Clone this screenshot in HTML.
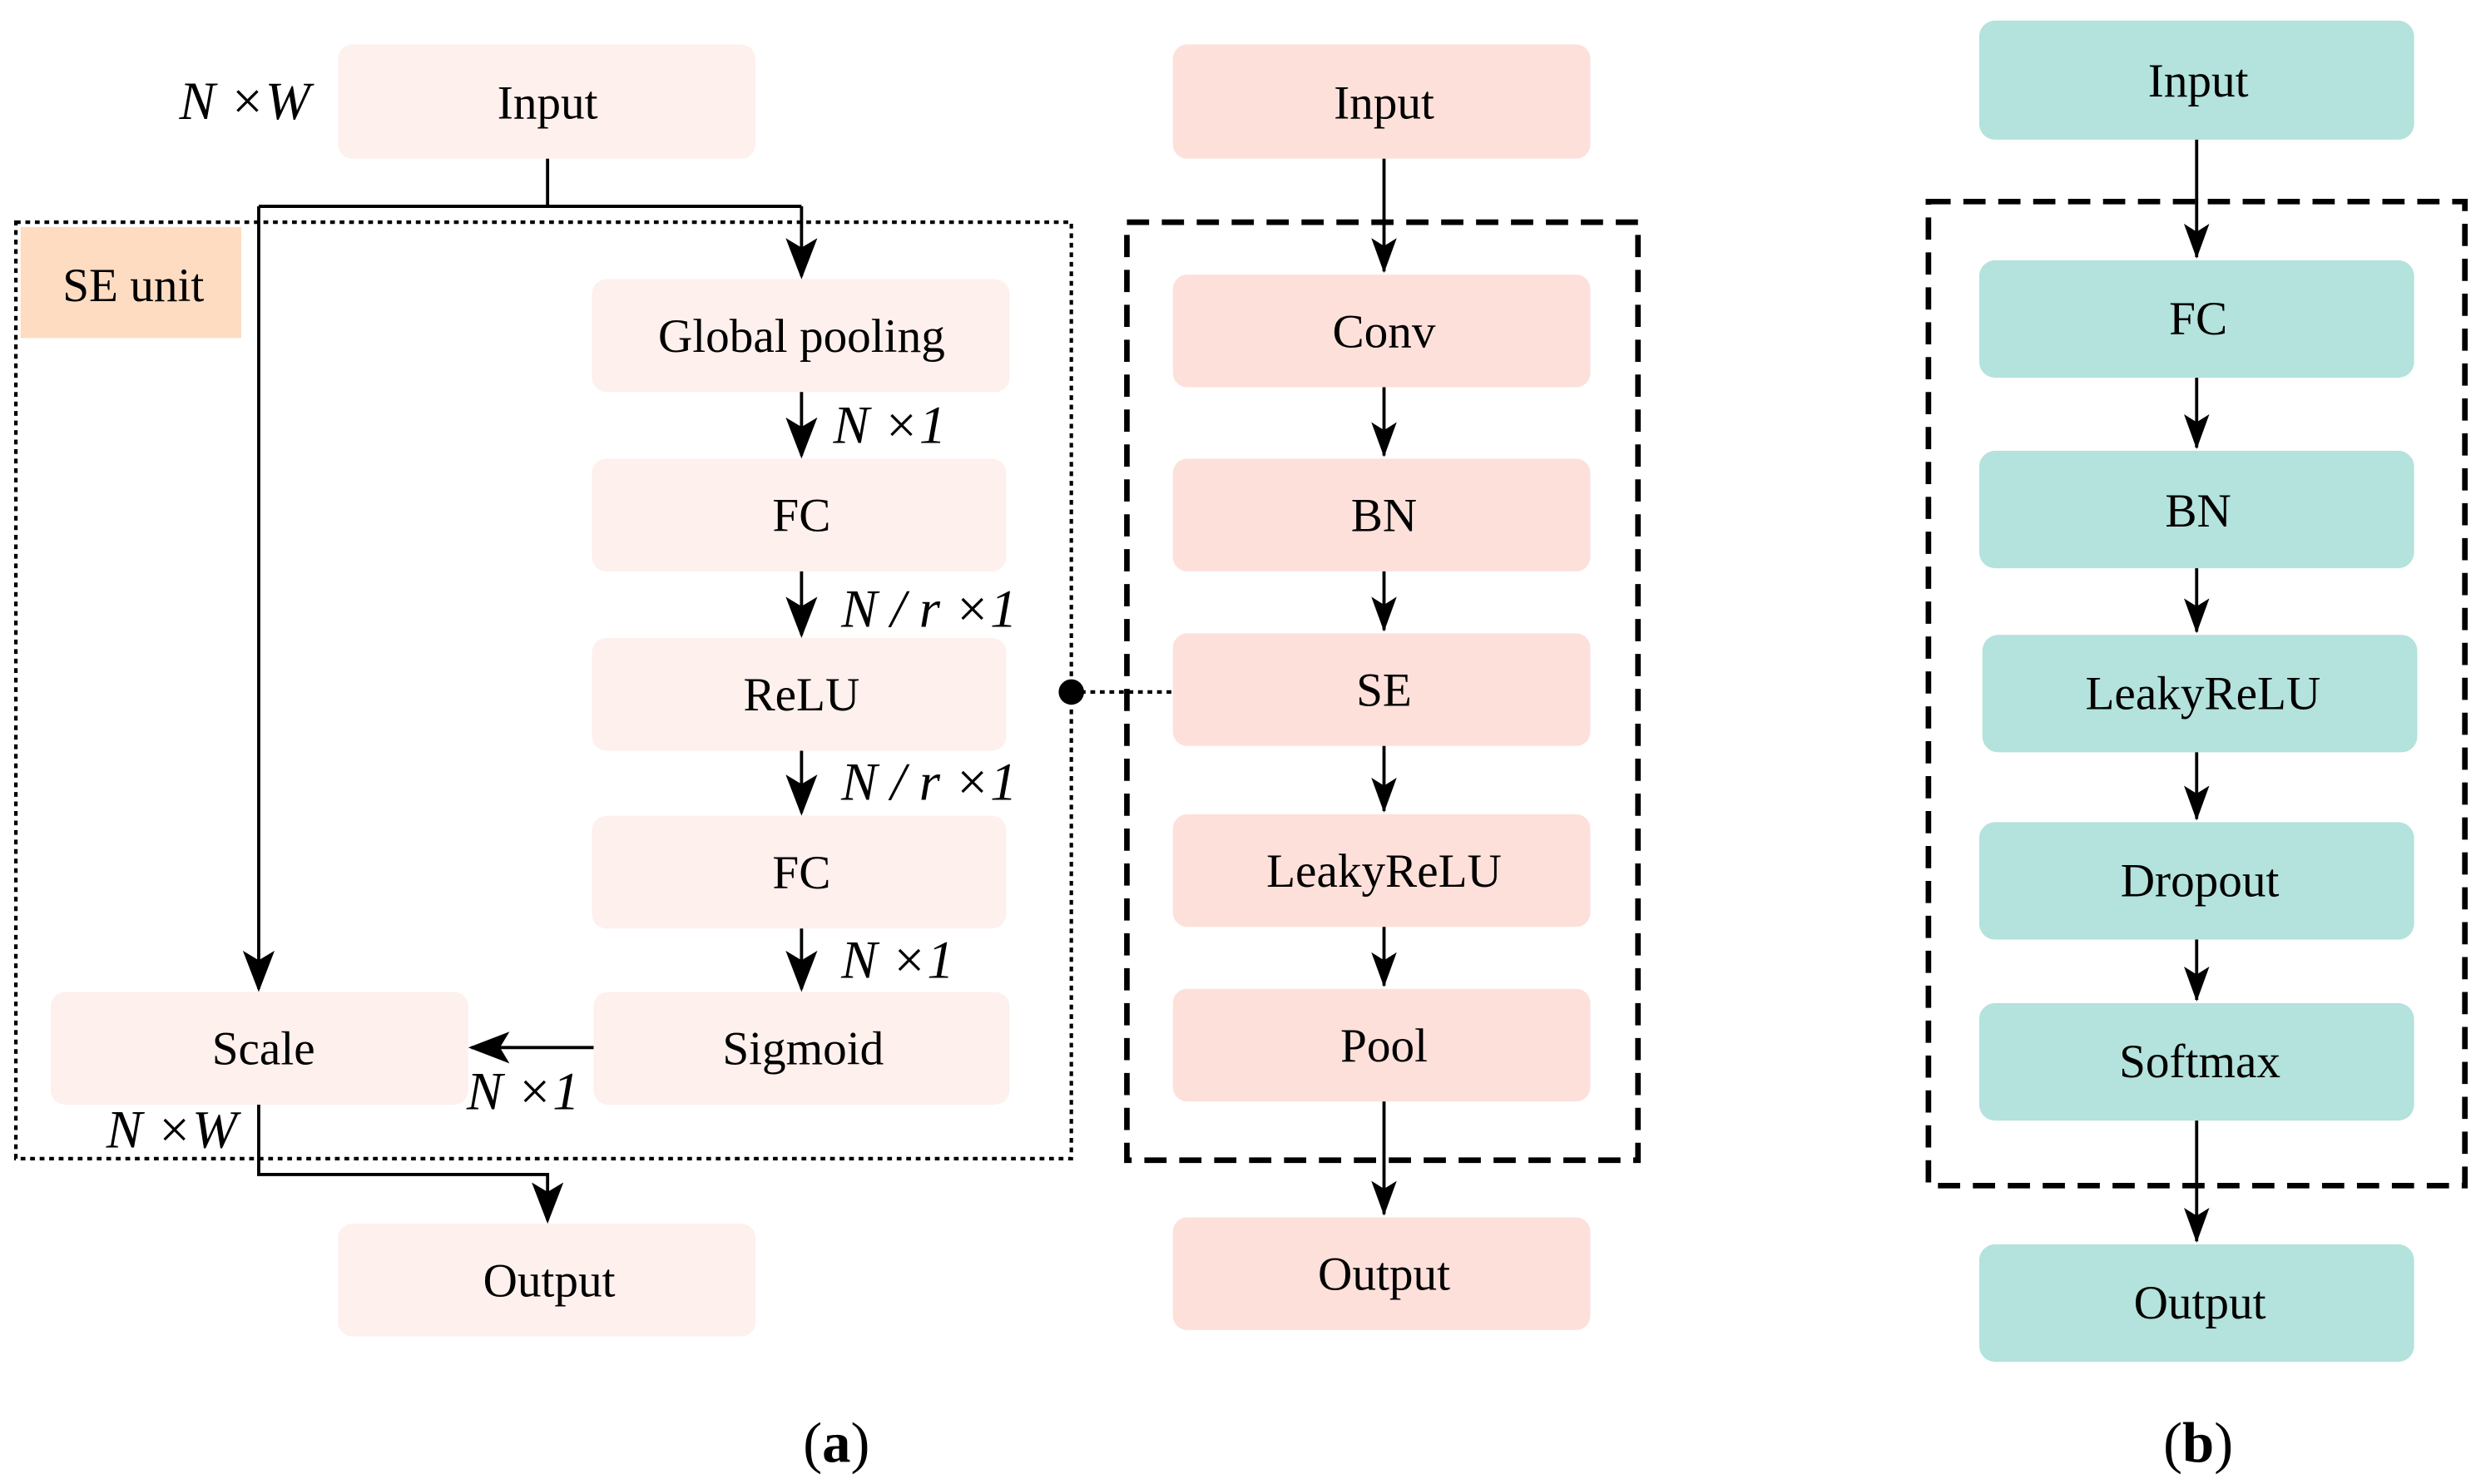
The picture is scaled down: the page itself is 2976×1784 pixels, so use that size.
<!DOCTYPE html>
<html><head><meta charset="utf-8"><style>
html,body{margin:0;padding:0;background:#fff;}
svg{display:block;}
svg text, svg tspan{font-family:"Liberation Serif","Times New Roman","Nimbus Roman","DejaVu Serif","Noto Serif CJK SC",serif;}
</style></head><body>
<svg width="2976" height="1784" viewBox="0 0 1560 935" preserveAspectRatio="none" xmlns="http://www.w3.org/2000/svg">
<defs>
<marker id="ah" markerUnits="userSpaceOnUse" markerWidth="26" markerHeight="20" refX="24" refY="10" orient="auto" viewBox="0 0 26 20">
<path d="M0,0 L26,10 L0,20 L6,10 Z" fill="#000"/>
</marker>
<marker id="ah2" markerUnits="userSpaceOnUse" markerWidth="22" markerHeight="16" refX="21" refY="8" orient="auto" viewBox="0 0 22 16">
<path d="M0,0 L22,8 L0,16 L5,8 Z" fill="#000"/>
</marker>
</defs>

<g font-size="30" text-anchor="middle" dominant-baseline="central">
<rect x="10" y="140" width="665" height="590" fill="none" stroke="#000" stroke-width="2.2" stroke-dasharray="3,3"/>
<rect x="13" y="143" width="139" height="70" fill="#fddcc2"/>
<text x="84" y="180">SE unit</text>

<g fill="#fdf0ed">
<rect x="213" y="28" width="263" height="72" rx="9"/>
<rect x="373" y="176" width="263" height="71" rx="9"/>
<rect x="373" y="289" width="261" height="71" rx="9"/>
<rect x="373" y="402" width="261" height="71" rx="9"/>
<rect x="373" y="514" width="261" height="71" rx="9"/>
<rect x="374" y="625" width="262" height="71" rx="9"/>
<rect x="32" y="625" width="263" height="71" rx="9"/>
<rect x="213" y="771" width="263" height="71" rx="9"/>
</g>
<text x="345" y="65">Input</text>
<text x="505" y="212">Global pooling</text>
<text x="505" y="325">FC</text>
<text x="505" y="438">ReLU</text>
<text x="505" y="550">FC</text>
<text x="506" y="661">Sigmoid</text>
<text x="166" y="661">Scale</text>
<text x="346" y="807">Output</text>

<g stroke="#000" stroke-width="2" fill="none">
<path d="M345,100 V130 M163,130 H505"/>
<path d="M163,130 V623" marker-end="url(#ah)"/>
<path d="M505,130 V174" marker-end="url(#ah)"/>
<path d="M505,247 V287" marker-end="url(#ah)"/>
<path d="M505,360 V400" marker-end="url(#ah)"/>
<path d="M505,473 V512" marker-end="url(#ah)"/>
<path d="M505,585 V623" marker-end="url(#ah)"/>
<path d="M374,660 H297" marker-end="url(#ah)"/>
<path d="M163,696 V740 H345 V769" marker-end="url(#ah)"/>
</g>

<g font-style="italic" font-size="34" text-anchor="start">
<text x="113" y="64">N ×W</text>
<text x="525" y="268">N ×1</text>
<text x="530" y="384">N / r ×1</text>
<text x="530" y="493">N / r ×1</text>
<text x="530" y="605">N ×1</text>
<text x="294" y="688">N ×1</text>
<text x="67" y="712">N ×W</text>
</g>

<circle cx="675" cy="436" r="8" fill="#000"/>
<path d="M675,436 H740" stroke="#000" stroke-width="2.2" stroke-dasharray="3,3"/>

<rect x="710" y="140" width="322" height="591" fill="none" stroke="#000" stroke-width="3.5" stroke-dasharray="14,8"/>
<g fill="#fde0da">
<rect x="739" y="28" width="263" height="72" rx="9"/>
<rect x="739" y="173" width="263" height="71" rx="9"/>
<rect x="739" y="289" width="263" height="71" rx="9"/>
<rect x="739" y="399" width="263" height="71" rx="9"/>
<rect x="739" y="513" width="263" height="71" rx="9"/>
<rect x="739" y="623" width="263" height="71" rx="9"/>
<rect x="739" y="767" width="263" height="71" rx="9"/>
</g>
<text x="872" y="65">Input</text>
<text x="872" y="209">Conv</text>
<text x="872" y="325">BN</text>
<text x="872" y="435">SE</text>
<text x="872" y="549">LeakyReLU</text>
<text x="872" y="659">Pool</text>
<text x="872" y="803">Output</text>
<g stroke="#000" stroke-width="2" fill="none">
<path d="M872,100 V171" marker-end="url(#ah2)"/>
<path d="M872,244 V287" marker-end="url(#ah2)"/>
<path d="M872,360 V397" marker-end="url(#ah2)"/>
<path d="M872,470 V511" marker-end="url(#ah2)"/>
<path d="M872,584 V621" marker-end="url(#ah2)"/>
<path d="M872,694 V765" marker-end="url(#ah2)"/>
</g>

<rect x="1215" y="127" width="338" height="620" fill="none" stroke="#000" stroke-width="3.5" stroke-dasharray="14,8"/>
<g fill="#b4e2dc">
<rect x="1247" y="13" width="274" height="75" rx="10"/>
<rect x="1247" y="164" width="274" height="74" rx="10"/>
<rect x="1247" y="284" width="274" height="74" rx="10"/>
<rect x="1249" y="400" width="274" height="74" rx="10"/>
<rect x="1247" y="518" width="274" height="74" rx="10"/>
<rect x="1247" y="632" width="274" height="74" rx="10"/>
<rect x="1247" y="784" width="274" height="74" rx="10"/>
</g>
<text x="1385" y="51">Input</text>
<text x="1385" y="201">FC</text>
<text x="1385" y="322">BN</text>
<text x="1388" y="437">LeakyReLU</text>
<text x="1386" y="555">Dropout</text>
<text x="1386" y="669">Softmax</text>
<text x="1386" y="821">Output</text>
<g stroke="#000" stroke-width="2" fill="none">
<path d="M1384,88 V162" marker-end="url(#ah2)"/>
<path d="M1384,238 V282" marker-end="url(#ah2)"/>
<path d="M1384,358 V398" marker-end="url(#ah2)"/>
<path d="M1384,474 V516" marker-end="url(#ah2)"/>
<path d="M1384,592 V630" marker-end="url(#ah2)"/>
<path d="M1384,706 V782" marker-end="url(#ah2)"/>
</g>

<text x="527" y="909" font-size="36">(<tspan font-weight="bold">a</tspan>)</text>
<text x="1385" y="909" font-size="36">(<tspan font-weight="bold">b</tspan>)</text>
</g>
</svg>
</body></html>
